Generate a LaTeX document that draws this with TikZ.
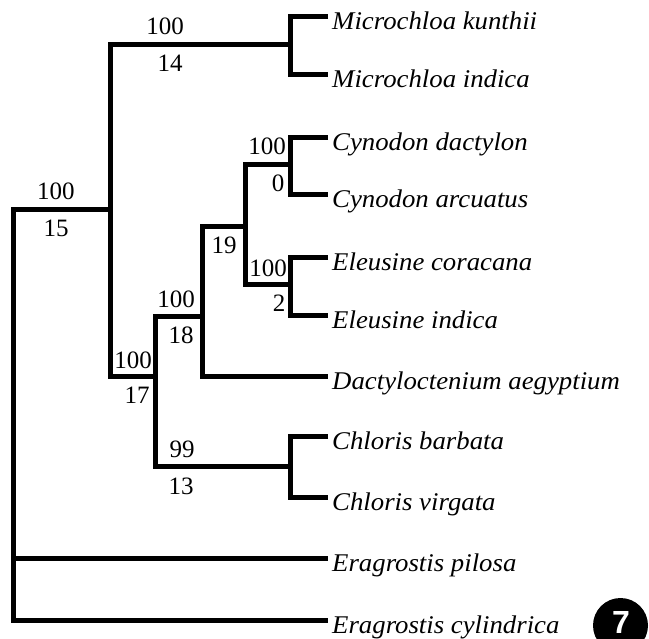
\documentclass[tikz,border=0pt]{standalone}
\usepackage{fontspec}
\setmainfont{Liberation Serif}
\newfontfamily\taxonfont{Liberation Serif}[FakeStretch=1.05]
\newfontfamily\badgefont{Liberation Sans}
\usetikzlibrary{positioning}

\tikzset{
  branch/.style={line width=5pt, line join=miter},
  taxon/.style={anchor=base west, inner sep=0pt, xshift=4pt, yshift=-13pt,
    font=\taxonfont\fontsize{25.5}{28}\selectfont\itshape},
  supup/.style={anchor=base, inner sep=0pt, yshift=10pt,
    font=\fontsize{25}{28}\selectfont},
  supdn/.style={anchor=base, inner sep=0pt, yshift=-27pt,
    font=\fontsize{25}{28}\selectfont},
}

\begin{document}
\begin{tikzpicture}[x=1pt, y=-1pt]
  \useasboundingbox (0,0) rectangle (649,639);

  % internal nodes
  \coordinate (root) at (13,210);
  \coordinate (n15) at (110,210);
  \coordinate (n14) at (290,45);
  \coordinate (n17) at (155,377);
  \coordinate (n18) at (202,317);
  \coordinate (n19) at (245,227);
  \coordinate (n0) at (290,165);
  \coordinate (n2) at (290,285);
  \coordinate (n13) at (290,467);

  % leaf tips
  \coordinate (mkun) at (328,17);
  \coordinate (mind) at (328,75);
  \coordinate (cdac) at (328,138);
  \coordinate (carc) at (328,195);
  \coordinate (ecor) at (328,258);
  \coordinate (eind) at (328,316);
  \coordinate (daeg) at (328,377);
  \coordinate (cbar) at (328,437);
  \coordinate (cvir) at (328,498);
  \coordinate (epil) at (328,558);
  \coordinate (ecyl) at (328,620);

  % branches
  \draw[branch] (n15) -- (root) |- (ecyl);
  \draw[branch] (root |- epil) -- (epil);
  \draw[branch] (n14) -| (n15) |- (n17);
  \draw[branch] (mkun) -| (n14) |- (mind);
  \draw[branch] (n18) -| (n17) |- (n13);
  \draw[branch] (n19) -| (n18) |- (daeg);
  \draw[branch] (n0) -| (n19) |- (n2);
  \draw[branch] (cdac) -| (n0) |- (carc);
  \draw[branch] (ecor) -| (n2) |- (eind);
  \draw[branch] (cbar) -| (n13) |- (cvir);

  % taxa
  \node[taxon] (tmkun) at (mkun) {Microchloa kunthii};
  \node[taxon] (tmind) at (mind) {Microchloa indica};
  \node[taxon] (tcdac) at (cdac) {Cynodon dactylon};
  \node[taxon] (tcarc) at (carc) {Cynodon arcuatus};
  \node[taxon] (tecor) at (ecor) {Eleusine coracana};
  \node[taxon] (teind) at (eind) {Eleusine indica};
  \node[taxon] (tdaeg) at (daeg) {Dactyloctenium aegyptium};
  \node[taxon] (tcbar) at (cbar) {Chloris barbata};
  \node[taxon] (tcvir) at (cvir) {Chloris virgata};
  \node[taxon] (tepil) at (epil) {Eragrostis pilosa};
  \node[taxon] (tecyl) at (ecyl) {Eragrostis cylindrica};

  % support values
  \node[supup] (b15) at (56,210) {100};
  \node[supdn] (d15) at (56,210) {15};
  \node[supup] (b14) at (165,45) {100};
  \node[supdn] (d14) at (170,45) {14};
  \node[supup] (b17) at (133,379) {100};
  \node[supdn] (d17) at (137,377) {17};
  \node[supup] (b18) at (176,318) {100};
  \node[supdn] (d18) at (181,317) {18};
  \node[supdn] (d19) at (224,227) {19};
  \node[supup] (b0) at (267,165) {100};
  \node[supdn] (d0) at (278,165) {0};
  \node[supup] (b2) at (268,287) {100};
  \node[supdn] (d2) at (279,285) {2};
  \node[supup] (b13) at (182,467) {99};
  \node[supdn] (d13) at (181,467) {13};

  % plate number
  \fill (620.5,625.5) circle (27.5);
  \node[text=white, inner sep=0pt, font=\badgefont\bfseries\fontsize{32}{34}\selectfont]
    (plate) at (621,622) {7};
\end{tikzpicture}
\end{document}
